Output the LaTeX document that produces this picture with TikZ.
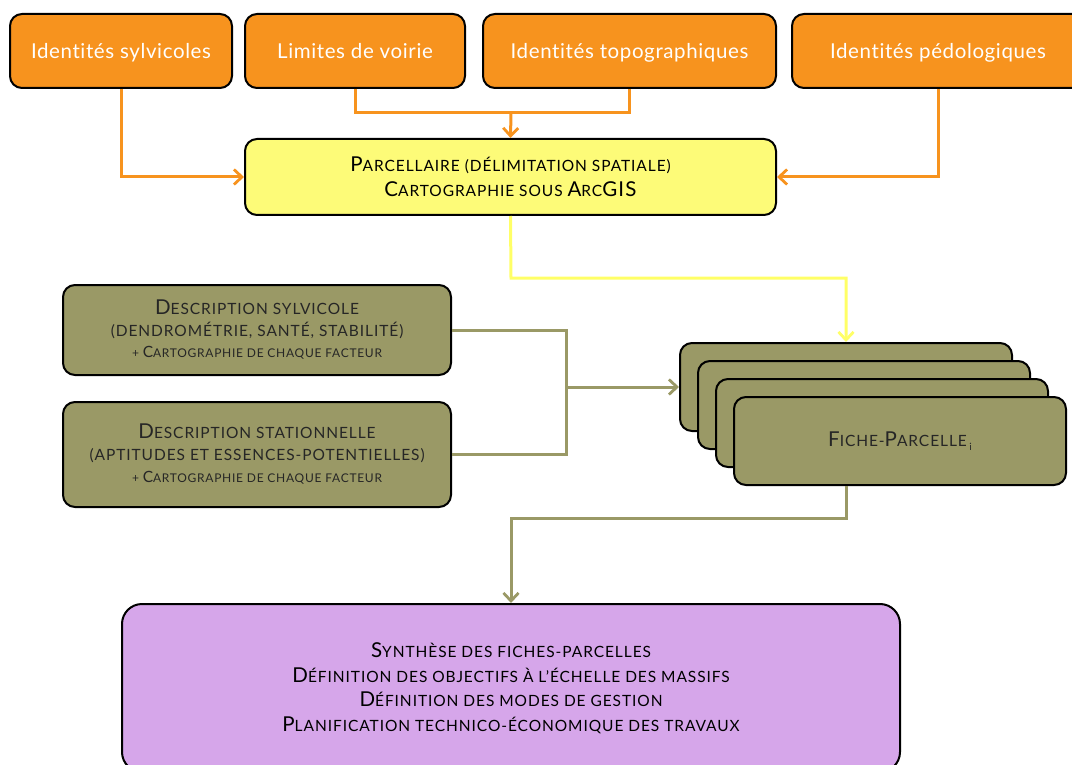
\documentclass[tikz,border=0pt]{standalone}
\usepackage{fontspec}
\setmainfont{Lato}[Ligatures=NoCommon,LetterSpace=6]
\newfontfamily\ofont{Lato}[Ligatures=NoCommon,LetterSpace=3]
\usetikzlibrary{arrows.meta}
\definecolor{orangeF}{HTML}{F7931E}
\definecolor{yellowF}{HTML}{FDFB78}
\definecolor{yellowL}{HTML}{FFFF66}
\definecolor{oliveF}{HTML}{9A9966}
\definecolor{purpleF}{HTML}{D6A6EA}
\newcommand{\Bg}[1]{{\fontsize{20.5}{24}\selectfont #1}}
\newcommand{\Sm}[1]{{\fontsize{12}{14}\selectfont #1}}
\newcommand{\Sb}[1]{{\fontsize{15.5}{14}\selectfont #1}}
\begin{document}
\begin{tikzpicture}[x=1pt,y=-1pt,
  box/.style={draw=black,line width=2pt,rounded corners=12pt,align=center,inner sep=0pt},
  obox/.style={box,fill=orangeF,text=white,font=\ofont\fontsize{20.5}{23}\selectfont,text height=16pt,text depth=0pt},
  ybox/.style={box,fill=yellowF,font=\fontsize{15.5}{25}\selectfont},
  olbox/.style={box,fill=oliveF,text=black!85,font=\fontsize{15.5}{22}\selectfont},
  pbox/.style={box,fill=purpleF,rounded corners=20pt,font=\fontsize{15.5}{24.5}\selectfont},
  arr/.style={-{Straight Barb[length=8pt,width=15pt,line width=2.8pt]}},
  oline/.style={draw=orangeF,line width=3pt},
  yline/.style={draw=yellowL,line width=3pt},
  lline/.style={draw=oliveF,line width=3pt}]
\useasboundingbox (0,0) rectangle (1072,765);
% top orange boxes
\node[obox,minimum width=222pt,minimum height=74pt] (o1) at (121,51) {Identités sylvicoles};
\node[obox,minimum width=220pt,minimum height=74pt] (o2) at (355,51) {Limites de voirie};
\node[obox,minimum width=293pt,minimum height=74pt] (o3) at (629.5,51) {Identités topographiques};
\node[obox,minimum width=292pt,minimum height=74pt] (o4) at (938,51) {Identités pédologiques};
% yellow box
\node[ybox,minimum width=531pt,minimum height=76pt] (yl) at (510.5,177)
  {\Bg{P}ARCELLAIRE (DÉLIMITATION SPATIALE)\\\Bg{C}ARTOGRAPHIE SOUS \Bg{A}RC\Bg{GIS}};
% olive description boxes
\node[olbox,minimum width=388pt,minimum height=90pt] (d1) at (257,330)
  {\Bg{D}ESCRIPTION SYLVICOLE\\(DENDROMÉTRIE, SANTÉ, STABILITÉ)\\[-1pt]\Sm{+ \Sb{C}ARTOGRAPHIE DE CHAQUE FACTEUR}};
\node[olbox,minimum width=388pt,minimum height=105pt] (d2) at (257,454.5)
  {\Bg{D}ESCRIPTION STATIONNELLE\\(APTITUDES ET ESSENCES-POTENTIELLES)\\[0pt]\Sm{+ \Sb{C}ARTOGRAPHIE DE CHAQUE FACTEUR}};
% stack of fiches
\node[olbox,minimum width=332pt,minimum height=88pt] (b1) at (846,387) {};
\node[olbox,minimum width=332pt,minimum height=88pt] (b2) at (864,405) {};
\node[olbox,minimum width=332pt,minimum height=88pt] (b3) at (882,423) {};
\node[olbox,minimum width=332pt,minimum height=88pt] (b4) at (900,441)
  {\Bg{F}ICHE-\Bg{P}ARCELLE\,{\fontsize{10}{12}\selectfont\raisebox{-4pt}{i}}};
% purple box
\node[pbox,minimum width=778pt,minimum height=168pt] (pu) at (511,688)
  {\Bg{S}YNTHÈSE DES FICHES-PARCELLES\\\Bg{D}ÉFINITION DES OBJECTIFS À L’ÉCHELLE DES MASSIFS\\\Bg{D}ÉFINITION DES MODES DE GESTION\\\Bg{P}LANIFICATION TECHNICO-ÉCONOMIQUE DES TRAVAUX};
% orange connectors
\coordinate (j) at (511,113);
\draw[oline,arr] (o1.south) |- (yl.west);
\draw[oline,arr] (o4.south) |- (yl.east);
\draw[oline] (o2.south) |- (j) -| (o3.south);
\draw[oline,arr] (j) -- (yl.north);
% yellow connector
\coordinate (ty) at (511,278);
\draw[yline,arr] (yl.south) -- (ty) -| (b1.north);
% olive merge
\coordinate (m) at (566,387);
\draw[lline] (d1.east) -| (m);
\draw[lline] (d2.east) -| (m);
\draw[lline,arr] (m) -- (b1.west);
% olive down
\coordinate (tb) at (846,518);
\draw[lline,arr] (b1 |- b4.south) -- (tb) -| (pu.north);
\end{tikzpicture}
\end{document}
